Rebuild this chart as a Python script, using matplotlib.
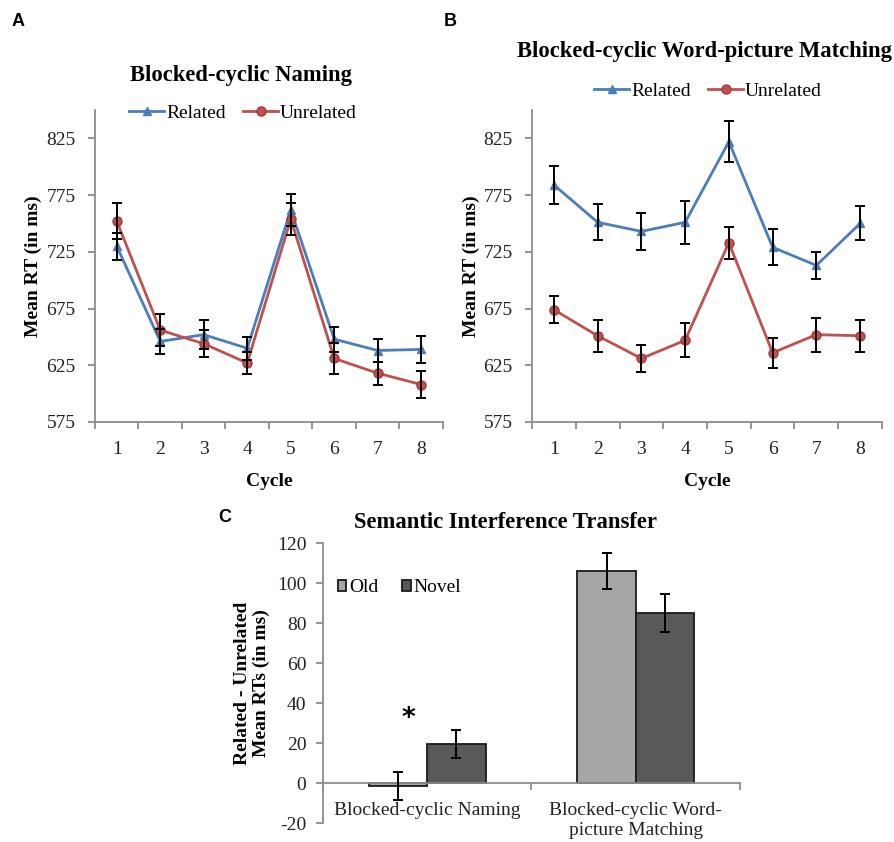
import matplotlib
matplotlib.use("Agg")
import matplotlib.pyplot as plt
import numpy as np

# Panel A: blocked-cyclic naming
cycles = [1, 2, 3, 4, 5, 6, 7, 8]
naming_related = [730, 646, 652, 640, 762, 648, 638, 639]
naming_related_err = [12, 11, 13, 10, 14, 11, 10, 12]
naming_unrelated = [752, 656, 644, 627, 754, 631, 618, 608]
naming_unrelated_err = [16, 14, 12, 10, 14, 14, 10, 12]

# Panel B: blocked-cyclic word-picture matching
wpm_related = [784, 751, 743, 751, 822, 729, 713, 750]
wpm_related_err = [17, 16, 16, 19, 18, 16, 12, 15]
wpm_unrelated = [674, 651, 631, 647, 733, 636, 652, 651]
wpm_unrelated_err = [12, 14, 12, 15, 14, 13, 15, 14]

# Panel C: semantic interference transfer
tasks = ["Blocked-cyclic Naming", "Blocked-cyclic Word-\npicture Matching"]
old_vals = [-1.5, 106]
old_err = [6.8, 9]
novel_vals = [19.5, 85]
novel_err = [7, 9.5]

plt.rcParams["axes.unicode_minus"] = False

SERIF = "Liberation Serif"
SANS = "Liberation Sans"
BLUE = "#4a7ebb"
RED = "#c0504d"
AXIS_GRAY = "#8c8c8c"

W, H = 895, 842
fig = plt.figure(figsize=(W / 100, H / 100), dpi=100)


def px_axes(left, top, right, bottom):
    return fig.add_axes([left / W, 1 - bottom / H, (right - left) / W, (bottom - top) / H])


def style_axes(ax):
    for side in ("top", "right"):
        ax.spines[side].set_visible(False)
    for side in ("left", "bottom"):
        ax.spines[side].set_color(AXIS_GRAY)
        ax.spines[side].set_linewidth(1.3)


def line_panel(ax, related, rel_err, unrelated, unrel_err, ylabel_x):
    style_axes(ax)
    err_kw = dict(fmt="none", ecolor="black", elinewidth=1.4, capsize=3.5, capthick=1.4, zorder=4)
    ax.plot(cycles, related, color=BLUE, lw=2, marker="^", ms=6, mfc=BLUE, mec=BLUE,
            label="Related", zorder=3)
    ax.plot(cycles, unrelated, color=RED, lw=2, marker="o", ms=6.5, mfc=RED,
            mec="#a33a37", label="Unrelated", zorder=3)
    ax.errorbar(cycles, related, yerr=rel_err, **err_kw)
    ax.errorbar(cycles, unrelated, yerr=unrel_err, **err_kw)
    ax.set_xlim(0.5, 8.5)
    ax.set_ylim(575, 850)
    ax.set_yticks([575, 625, 675, 725, 775, 825])
    ax.set_xticks(cycles)
    ax.set_xticks(np.arange(0.5, 9, 1), minor=True)
    ax.tick_params(axis="x", which="major", length=0, pad=14)
    ax.tick_params(axis="x", which="minor", length=5, color=AXIS_GRAY, width=1.3)
    ax.tick_params(axis="y", length=5, color=AXIS_GRAY, width=1.3, pad=9)
    for lab in ax.get_xticklabels() + ax.get_yticklabels():
        lab.set_fontfamily(SERIF)
        lab.set_fontsize(14)
        lab.set_color("#222222")
    ax.set_xlabel("Cycle", fontfamily=SERIF, fontweight="bold", fontsize=14)
    ax.xaxis.set_label_coords(0.5, -0.165)
    ax.set_ylabel("Mean RT (in ms)", fontfamily=SERIF, fontweight="bold", fontsize=14)
    ax.yaxis.set_label_coords(ylabel_x, 0.5)


legend_kw = dict(loc="center", ncol=2, frameon=False, prop={"family": SERIF, "size": 14},
                 handlelength=1.8, handletextpad=0.1, columnspacing=0.9, borderaxespad=0)

# ---- Panel A
ax_a = px_axes(95, 110, 443, 422)
line_panel(ax_a, naming_related, naming_related_err, naming_unrelated, naming_unrelated_err,
           -0.152)
fig.text(241 / W, 1 - 75 / H, "Blocked-cyclic Naming", ha="center", va="center",
         fontfamily=SERIF, fontweight="bold", fontsize=16.3)
h, l = ax_a.get_legend_handles_labels()
fig.legend(h, l, bbox_to_anchor=(243 / W, 1 - 113 / H), **legend_kw)

# ---- Panel B
ax_b = px_axes(532, 110, 882, 422)
line_panel(ax_b, wpm_related, wpm_related_err, wpm_unrelated, wpm_unrelated_err, -0.149)
fig.text(705 / W, 1 - 52 / H, "Blocked-cyclic Word-picture Matching", ha="center",
         va="center", fontfamily=SERIF, fontweight="bold", fontsize=16.3)
h, l = ax_b.get_legend_handles_labels()
fig.legend(h, l, bbox_to_anchor=(708 / W, 1 - 91 / H), **legend_kw)

# ---- Panel C
ax_c = px_axes(323, 543, 740, 823)
style_axes(ax_c)
x = np.arange(len(tasks))
bw = 0.28
ax_c.bar(x - bw / 2, old_vals, bw, color="#a6a6a6", edgecolor="#1a1a1a", lw=1.3,
         label="Old", zorder=2)
ax_c.bar(x + bw / 2, novel_vals, bw, color="#595959", edgecolor="#1a1a1a", lw=1.3,
         label="Novel", zorder=2)
ax_c.errorbar(x - bw / 2, old_vals, yerr=old_err, fmt="none", ecolor="black",
              elinewidth=1.4, capsize=3.5, capthick=1.4, zorder=3)
ax_c.errorbar(x + bw / 2, novel_vals, yerr=novel_err, fmt="none", ecolor="black",
              elinewidth=1.4, capsize=3.5, capthick=1.4, zorder=3)
ax_c.set_xlim(-0.5, 1.5)
ax_c.set_ylim(-20, 120)
ax_c.set_yticks(np.arange(-20, 121, 20))
ax_c.spines["bottom"].set_position(("data", 0))
ax_c.set_xticks([-0.5, 0.5, 1.5])
ax_c.set_xticklabels([])
ax_c.tick_params(axis="x", length=5, color=AXIS_GRAY, width=1.3)
ax_c.tick_params(axis="y", length=5, color=AXIS_GRAY, width=1.3, pad=7)
for lab in ax_c.get_yticklabels():
    lab.set_fontfamily(SERIF)
    lab.set_fontsize(14)
    lab.set_color("#222222")
for xi, name in zip(x, tasks):
    ax_c.text(xi, -9.5, name, ha="center", va="top", fontfamily=SERIF, fontsize=14,
              color="#222222", linespacing=1.2, clip_on=False)
ax_c.text(-0.09, 32, "*", ha="center", va="center", fontfamily="DejaVu Sans",
          fontsize=19, fontweight="bold")
ax_c.set_ylabel("Related - Unrelated\nMean RTs (in ms)", fontfamily=SERIF,
                fontweight="bold", fontsize=14, linespacing=1.15)
ax_c.yaxis.set_label_coords(-0.127, 0.5)
ax_c.legend(loc="upper left", bbox_to_anchor=(0.035, 0.87), ncol=2, frameon=False,
            prop={"family": SERIF, "size": 14}, handlelength=0.45, handleheight=0.45,
            handletextpad=0.15, columnspacing=1.2, borderaxespad=0, borderpad=0)
fig.text(506 / W, 1 - 523 / H, "Semantic Interference Transfer", ha="center",
         va="center", fontfamily=SERIF, fontweight="bold", fontsize=16.3)

# panel letters
for letter, px, py in (("A", 18, 22), ("B", 450, 22), ("C", 225, 518)):
    fig.text(px / W, 1 - py / H, letter, ha="center", va="center", fontfamily=SANS,
             fontweight="bold", fontsize=13)

fig.savefig("out.png", dpi=100)
